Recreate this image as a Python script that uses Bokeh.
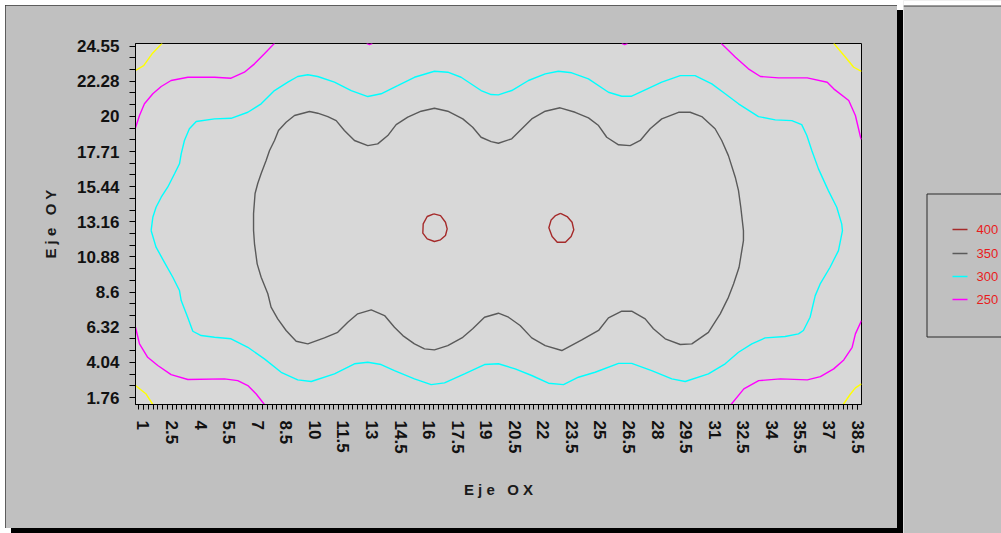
import numpy as np
from bokeh.plotting import figure
from bokeh.models import Range1d, FixedTicker, CustomJSTickFormatter
from bokeh.layouts import row
from bokeh.embed import file_html
from bokeh.resources import INLINE
from bokeh.core.properties import value

# ---------------- data ----------------
x_tick_labels = [1, 2.5, 4, 5.5, 7, 8.5, 10, 11.5, 13, 14.5, 16, 17.5, 19, 20.5,
                 22, 23.5, 25, 26.5, 28, 29.5, 31, 32.5, 34, 35.5, 37, 38.5]
y_tick_labels = [1.76, 4.04, 6.32, 8.6, 10.88, 13.16, 15.44, 17.71, 20, 22.28, 24.55]

legend_levels = [400, 350, 300, 250]
legend_colors = ["#a52a2a", "#5a5a5a", "#00ffff", "#ff00ff"]
level200_color = "#ffff00"

# contour 400 (two small loops)
c400_xs = [
    [16.25, 16.60, 16.86, 16.95, 16.86, 16.60, 16.28, 15.90, 15.67, 15.69, 15.90, 16.25],
    [22.90, 23.25, 23.51, 23.60, 23.46, 23.16, 22.73, 22.46, 22.29, 22.41, 22.64, 22.90],
]
c400_ys = [
    [13.67, 13.56, 13.13, 12.70, 12.27, 11.99, 11.88, 12.05, 12.42, 13.02, 13.50, 13.67],
    [13.71, 13.50, 13.13, 12.64, 12.20, 11.83, 11.83, 12.20, 12.77, 13.28, 13.56, 13.71],
]

# contour 350 (closed loop)
c350_xs = [[
    6.78, 6.78, 6.86, 7.00, 7.18, 7.44, 7.62, 7.88, 8.09, 8.49,
    8.93, 9.72, 10.15, 10.68, 11.12, 11.55, 12.08, 12.78, 13.30, 13.83,
    14.27, 14.88, 15.58, 16.28, 16.98, 17.77, 18.29, 18.73, 19.26, 19.64,
    20.34, 20.87, 21.39, 22.10, 22.88, 23.67, 24.37, 24.90, 25.33, 25.95,
    26.56, 27.09, 27.61, 28.22, 29.10, 29.71, 30.32, 31.02, 31.37, 31.72,
    32.08, 32.25, 32.37, 32.51, 32.51, 32.28, 31.99, 31.72, 31.29, 30.67,
    29.80, 29.19, 28.40, 27.78, 27.35, 26.64, 26.12, 25.42, 24.90, 24.02,
    22.97, 22.10, 21.39, 20.78, 20.17, 19.64, 18.91, 18.29, 17.77, 16.98,
    16.28, 15.76, 15.23, 14.62, 14.18, 13.66, 12.96, 12.25, 11.73, 11.20,
    10.50, 9.63, 9.02, 8.49, 8.05, 7.70, 7.53, 7.18, 6.97, 6.83, 6.78]]
c350_ys = [[
    12.59, 13.69, 14.99, 15.64, 16.29, 17.13, 17.78, 18.43, 19.08, 19.61,
    20.05, 20.31, 20.20, 19.98, 19.72, 19.08, 18.43, 18.10, 18.21, 18.75,
    19.46, 19.94, 20.33, 20.52, 20.33, 19.83, 19.29, 18.64, 18.36, 18.25,
    18.54, 19.19, 19.83, 20.33, 20.55, 20.26, 19.90, 19.40, 18.64, 18.15,
    18.10, 18.43, 19.19, 19.83, 20.26, 20.26, 19.98, 19.19, 18.43, 17.45,
    16.05, 15.18, 14.10, 12.59, 11.94, 10.21, 9.13, 8.26, 7.19, 5.99,
    5.24, 5.20, 5.57, 6.22, 6.86, 7.36, 7.36, 6.93, 6.11, 5.50,
    4.81, 5.13, 5.63, 6.43, 6.97, 7.23, 6.97, 6.22, 5.67, 5.13,
    4.85, 4.92, 5.24, 5.78, 6.32, 7.08, 7.45, 7.19, 6.64, 5.99,
    5.63, 5.24, 5.41, 6.11, 6.86, 7.62, 8.49, 9.56, 10.43, 11.73, 12.59]]

# contour 300 (closed loop)
c300_xs = [[
    1.40, 1.49, 1.66, 1.93, 2.27, 2.63, 2.89, 2.98, 3.15, 3.41,
    3.77, 4.73, 5.60, 6.48, 7.18, 7.88, 8.58, 9.10, 9.63, 10.15,
    11.03, 11.91, 12.78, 13.48, 14.35, 15.23, 16.28, 16.98, 17.68, 18.73,
    19.26, 19.64, 20.34, 21.22, 22.10, 22.79, 23.49, 24.37, 25.42, 26.12,
    26.64, 27.35, 28.22, 29.19, 29.97, 30.85, 31.55, 32.25, 33.30, 34.18,
    35.05, 35.57, 35.84, 36.10, 36.45, 36.97, 37.41, 37.67, 37.71, 37.50,
    37.06, 36.54, 36.28, 36.01, 35.66, 35.40, 34.70, 33.65, 32.95, 32.25,
    31.55, 30.67, 29.45, 28.75, 27.69, 26.64, 25.95, 24.72, 23.84, 23.06,
    22.27, 21.39, 20.52, 19.64, 18.91, 17.86, 16.81, 16.11, 15.23, 14.18,
    13.48, 12.78, 12.08, 11.03, 9.81, 9.10, 8.23, 7.35, 6.48, 5.60,
    4.73, 4.03, 3.59, 3.32, 2.98, 2.89, 2.54, 2.10, 1.66, 1.40]]
c300_ys = [[
    12.59, 13.45, 14.10, 14.75, 15.40, 16.27, 16.92, 17.56, 18.43, 19.19,
    19.66, 19.83, 19.87, 20.26, 20.81, 21.67, 22.21, 22.58, 22.69, 22.58,
    22.21, 21.67, 21.28, 21.46, 21.99, 22.53, 22.92, 22.86, 22.53, 21.67,
    21.41, 21.39, 21.67, 22.32, 22.75, 22.92, 22.82, 22.43, 21.56, 21.30,
    21.30, 21.71, 22.21, 22.64, 22.64, 22.10, 21.46, 20.81, 19.98, 19.77,
    19.72, 19.46, 18.75, 17.78, 16.59, 15.18, 14.10, 13.02, 12.59, 11.29,
    10.21, 9.13, 8.37, 6.97, 6.11, 5.89, 5.72, 5.63, 5.24, 4.70,
    3.95, 3.30, 2.80, 2.97, 3.51, 3.98, 3.98, 3.40, 3.08, 2.60,
    2.69, 3.19, 3.62, 3.95, 3.90, 3.30, 2.71, 2.60, 2.97, 3.51,
    3.90, 4.05, 3.95, 3.30, 2.80, 2.91, 3.40, 4.27, 5.02, 5.57,
    5.67, 5.78, 6.06, 6.97, 8.05, 8.70, 9.56, 10.53, 11.51, 12.59]]

# contour 250 (corner arcs + two tiny edge notches at the top)
c250_xs = [
    [0.58, 0.79, 1.05, 1.49, 1.93, 2.45, 3.33, 4.73, 5.60, 6.30, 6.83, 7.35, 7.88],
    [31.34, 32.09, 32.77, 33.40, 34.35, 35.86, 36.91, 37.25, 38.04, 38.39, 38.66, 38.71],
    [0.58, 0.79, 1.22, 1.75, 2.45, 3.33, 5.25, 5.95, 6.48, 6.92, 7.35],
    [31.86, 32.53, 33.31, 34.45, 35.86, 36.55, 37.25, 37.78, 38.22, 38.39, 38.71],
    [12.72, 12.87, 13.02],
    [26.12, 26.27, 26.42],
]
c250_ys = [
    [19.25, 20.05, 20.81, 21.46, 21.93, 22.32, 22.53, 22.53, 22.47, 22.86, 23.40, 24.05, 24.73],
    [24.73, 23.83, 23.08, 22.58, 22.49, 22.49, 22.21, 21.78, 21.02, 20.05, 18.64, 18.50],
    [6.32, 5.24, 4.37, 3.84, 3.25, 2.93, 2.97, 2.86, 2.54, 1.99, 1.31],
    [1.31, 2.32, 2.86, 2.97, 2.91, 3.12, 3.62, 4.20, 5.02, 5.89, 6.75],
    [24.73, 24.64, 24.73],
    [24.73, 24.64, 24.73],
]

# contour 200 (corner arcs)
c200_xs = [
    [0.58, 1.01, 1.45, 1.98],
    [37.25, 37.87, 38.30, 38.71],
    [0.58, 1.14, 1.49],
    [37.75, 38.13, 38.39, 38.71],
]
c200_ys = [
    [22.97, 23.29, 24.05, 24.73],
    [24.73, 23.83, 23.18, 22.92],
    [2.54, 1.99, 1.31],
    [1.31, 1.99, 2.39, 2.65],
]

# ---------------- main chart ----------------
PANEL = "#c0c0c0"
FONT = "Liberation Sans"
NB = "\u00a0"

p = figure(width=892, height=523, title=None,
           x_range=Range1d(0.58, 38.71), y_range=Range1d(1.31, 24.72),
           output_backend="svg", toolbar_location=None,
           min_border_left=130, min_border_right=36,
           min_border_top=38, min_border_bottom=124)
p.margin = (5, 6, 5, 5)
try:
    p.frame_align = False
except Exception:
    pass
p.styles = {"box-shadow": "6px 5px 0px 0px #000000",
            "outline": "1px solid #3c3c3c",
            "outline-offset": "-1px"}
p.background_fill_color = "#d8d8d8"
p.border_fill_color = PANEL
p.outline_line_color = "#000000"
p.outline_line_width = 1
p.grid.visible = False

fmt = CustomJSTickFormatter(code="return tick.toString();")

xa = p.xaxis[0]
x_minor = [round(v, 2) for v in np.arange(0.75, 38.71, 0.25)]
xa.ticker = FixedTicker(ticks=x_tick_labels, minor_ticks=x_minor)
xa.formatter = fmt
xa.major_label_orientation = "vertical"
xa.major_label_standoff = 11
xa.major_tick_in = 0
xa.major_tick_out = 5
xa.minor_tick_in = 0
xa.minor_tick_out = 5
xa.axis_label = "E j e" + NB * 3 + "O X"
xa.axis_label_standoff = 24

ya = p.yaxis[0]
y_minor = []
for a, b in zip(y_tick_labels[:-1], y_tick_labels[1:]):
    y_minor += [a + (b - a) / 3.0, a + 2.0 * (b - a) / 3.0]
ya.ticker = FixedTicker(ticks=y_tick_labels, minor_ticks=y_minor)
ya.formatter = fmt
ya.major_label_standoff = 10
ya.major_tick_in = 0
ya.major_tick_out = 6
ya.minor_tick_in = 0
ya.minor_tick_out = 6
ya.axis_label = "E j e" + NB * 3 + "O Y"
ya.axis_label_standoff = 15

for ax in (xa, ya):
    ax.axis_line_color = "#000000"
    ax.major_tick_line_color = "#000000"
    ax.minor_tick_line_color = "#000000"
    ax.major_label_text_font = FONT
    ax.major_label_text_font_style = "bold"
    ax.major_label_text_font_size = "17px"
    ax.major_label_text_color = "#111111"
    ax.axis_label_text_font = FONT
    ax.axis_label_text_font_style = "bold"
    ax.axis_label_text_font_size = "15px"
    ax.axis_label_text_color = "#1a1a1a"

LW = 1.4
p.multi_line(xs=c200_xs, ys=c200_ys, line_color=level200_color, line_width=LW)
p.multi_line(xs=c250_xs, ys=c250_ys, line_color=legend_colors[3], line_width=LW)
p.multi_line(xs=c300_xs, ys=c300_ys, line_color=legend_colors[2], line_width=LW)
p.multi_line(xs=c350_xs, ys=c350_ys, line_color=legend_colors[1], line_width=LW)
p.multi_line(xs=c400_xs, ys=c400_ys, line_color=legend_colors[0], line_width=LW)

# ---------------- side panel with legend ----------------
p2 = figure(width=98, height=533, title=None,
            x_range=Range1d(0, 98), y_range=Range1d(533, 0),
            x_axis_location=None, y_axis_location=None,
            output_backend="svg", toolbar_location=None, min_border=0)
try:
    p2.frame_align = False
except Exception:
    pass
p2.background_fill_color = PANEL
p2.border_fill_color = PANEL
p2.outline_line_color = None
p2.grid.visible = False

p2.quad(left=[-1], right=[99], top=[-1], bottom=[5.5],
        fill_color="#ffffff", line_color=None)
p2.segment(x0=[0], y0=[5.5], x1=[98], y1=[5.5], line_color="#3a3a3a", line_width=1)
p2.quad(left=[23.5], right=[105], top=[193.5], bottom=[336.5],
        fill_color=PANEL, line_color="#2a2a2a", line_width=1)

rows_y = [229, 253, 276, 299]
n = len(legend_levels)
p2.segment(x0=[49] * n, x1=[64] * n, y0=rows_y, y1=rows_y,
           line_color=legend_colors, line_width=1.6)
p2.text(x=[73] * n, y=rows_y, text=[str(v) for v in legend_levels],
        text_color="#e81c1c", text_font=value(FONT), text_font_size="13px",
        text_baseline="middle", text_align="left")

layout = row(p, p2)
open("out.html", "w").write(file_html(layout, INLINE))
